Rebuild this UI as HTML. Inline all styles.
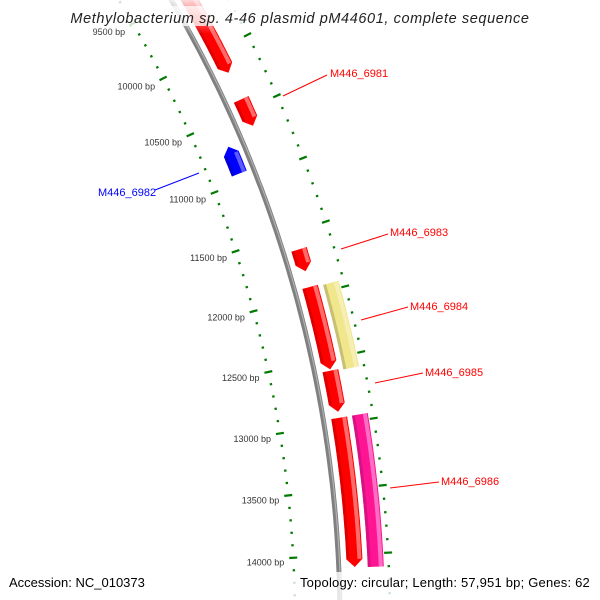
<!DOCTYPE html>
<html><head><meta charset="utf-8"><style>
html,body{margin:0;background:#fff;overflow:hidden;width:600px;height:600px}
svg{display:block;font-family:"Liberation Sans","DejaVu Sans",sans-serif}
</style></head><body>
<svg id="map" width="600" height="600" viewBox="0 0 600 600" xmlns="http://www.w3.org/2000/svg" overflow="hidden">
<g id="ticks"></g>
<g id="backbone"></g>
<g id="features"></g>
<g id="callouts"></g>
</svg>
<script>
const featStart = [9150, 10414, 10707, 11637, 11934, 12590, 12954, 11946, 12954];
const featEnd   = [10190, 10634, 10933, 11810, 12580, 12907, 14095, 12600, 14100];
const featStrand= [1, 1, -1, 1, 1, 1, 1, 0, 0];
const featSlot  = [1, 1, -1, 1, 1, 1, 1, 2, 2];
const featColor = ['#ff0000','#ff0000','#0000ff','#ff0000','#ff0000','#ff0000','#ff0000','#f0e68c','#ff1493'];
const featName  = ['M446_6981','','M446_6982','M446_6983','M446_6984','M446_6985','M446_6986','',''];
const labelName = ['M446_6981','M446_6982','M446_6983','M446_6984','M446_6985','M446_6986'];
const labelColor= ['#ff0000','#0000ff','#ff0000','#ff0000','#ff0000','#ff0000'];
const labelText = [[330,77],[98,196],[390,236],[410,310],[425,376],[441,485]];
const labelLine = [[283,96,327,75],[155,190,199,173],[341,249,388,234],[361,320,408,307],[375,383,423,373],[390,488,439,482]];
const tickStart = 9000, tickEnd = 14600, tickStep = 100, majorStep = 500;

const CX=-891, CY=622, A0=2.28, K=0.006044;
const RB=1231, RIN=1186, ROUT=1281;
const slotR = {'-1':1216, '1':1247, '2':1268};
const NS='http://www.w3.org/2000/svg';
function ang(bp){return (A0+K*bp)*Math.PI/180;}
function pt(r,bp){const a=ang(bp);return [CX+r*Math.sin(a), CY-r*Math.cos(a)];}
function mk(tag,attrs,parent){const e=document.createElementNS(NS,tag);for(const k in attrs)e.setAttribute(k,attrs[k]);parent.appendChild(e);return e;}

const bb=document.getElementById('backbone');
function arcPath(r,b0,b1){let d='';for(let b=b0;b<=b1;b+=50){const p=pt(r,b);d+=(d?'L':'M')+p[0].toFixed(1)+','+p[1].toFixed(1);}return d;}
let e=mk('path',{d:arcPath(RB,8500,14800),fill:'none',stroke:'#808080','stroke-width':5},bb);


e=mk('path',{d:arcPath(RB+1,8500,14800),fill:'none',stroke:'#b0b0b0','stroke-width':1.2},bb);



const tg=document.getElementById('ticks');
for(let b=tickStart;b<=tickEnd;b+=tickStep){
  const major=(b%majorStep===0);
  [RIN,ROUT].forEach(function(r){
    const L=major?4:1.2;
    const p0=pt(r-L,b),p1=pt(r+L,b);
    const t=mk('line',{x1:p0[0],y1:p0[1],x2:p1[0],y2:p1[1],stroke:'#007a00','stroke-width':2.2},tg);
    
    
  });
  if(major){
    const p=pt(RIN-9,b);
    const tx=mk('text',{x:p[0],y:p[1]+7,'text-anchor':'end','font-size':9,fill:'#333'},tg);
    tx.textContent=b+' bp';
    
    
  }
}

const fg=document.getElementById('features');
function featPath(r,w,b0,b1,strand){
  const head=60; const ri=r-w/2, ro=r+w/2; let out=[],inn=[];
  let s=b0,en=b1;
  if(strand===1)en=b1-head; if(strand===-1)s=b0+head;
  for(let b=s;b<=en;b+=20){out.push(pt(ro,b));inn.push(pt(ri,b));}
  out.push(pt(ro,en));inn.push(pt(ri,en));
  let pts=[];
  if(strand===-1)pts.push(pt(r,b0));
  pts=pts.concat(out);
  if(strand===1)pts.push(pt(r,b1));
  pts=pts.concat(inn.reverse());
  return 'M'+pts.map(p=>p[0].toFixed(1)+','+p[1].toFixed(1)).join('L')+'Z';
}
function lighten(c){return {'#ff0000':'#ff6a6a','#0000ff':'#5a5aff','#f0e68c':'#f6efb4','#ff1493':'#ff6ec4'}[c];}
function darken(c){return {'#ff0000':'#d00000','#0000ff':'#0000c0','#f0e68c':'#b8ae6a','#ff1493':'#c8107a'}[c];}
for(let i=0;i<featStart.length;i++){
  const r=slotR[featSlot[i]];
  const g=mk('g',{},fg);
  
  
  mk('path',{d:featPath(r,16,featStart[i],featEnd[i],featStrand[i]),fill:featColor[i]},g);
  const s0=featStart[i]+(featStrand[i]===-1?60:0), s1=featEnd[i]-(featStrand[i]===1?60:0);
  mk('path',{d:featPath(r+5,4,s0,s1,0),fill:lighten(featColor[i])},g);
  mk('path',{d:featPath(r-6.5,3,s0,s1,0),fill:darken(featColor[i]),opacity:0.7},g);
}

const cg=document.getElementById('callouts');
for(let i=0;i<labelName.length;i++){
  const l=labelLine[i];
  const ln=mk('line',{x1:l[0],y1:l[1],x2:l[2],y2:l[3],stroke:labelColor[i],'stroke-width':1},cg);
  
  
  const t=mk('text',{x:labelText[i][0],y:labelText[i][1],'font-size':11,fill:labelColor[i]},cg);
  t.textContent=labelName[i];
  
  
}

const svg=document.getElementById('map');
const defs=mk('defs',{},svg);
const lg=mk('linearGradient',{id:'topfade',x1:0,y1:0,x2:0,y2:1},defs);
mk('stop',{offset:0,'stop-color':'#fff','stop-opacity':0.85},lg);
mk('stop',{offset:1,'stop-color':'#fff','stop-opacity':0},lg);
e=mk('rect',{x:0,y:0,width:600,height:34,fill:'url(#topfade)'},svg);


e=mk('rect',{x:70,y:6,width:460,height:20,fill:'#fff',opacity:0.75},svg);


e=mk('text',{x:300,y:23,'text-anchor':'middle','font-size':14.5,'font-style':'italic','letter-spacing':0.6,fill:'#222'},svg);
e.textContent='Methylobacterium sp. 4-46 plasmid pM44601, complete sequence';


e=mk('rect',{x:0,y:572,width:600,height:28,fill:'#fff',opacity:0.8},svg);


e=mk('text',{x:9,y:587,'font-size':13,fill:'#000'},svg);
e.textContent='Accession: NC_010373';


e=mk('text',{x:590,y:587,'text-anchor':'end','font-size':13,'letter-spacing':0.2,fill:'#000'},svg);
e.textContent='Topology: circular; Length: 57,951 bp; Genes: 62';


</script>
</body></html>
